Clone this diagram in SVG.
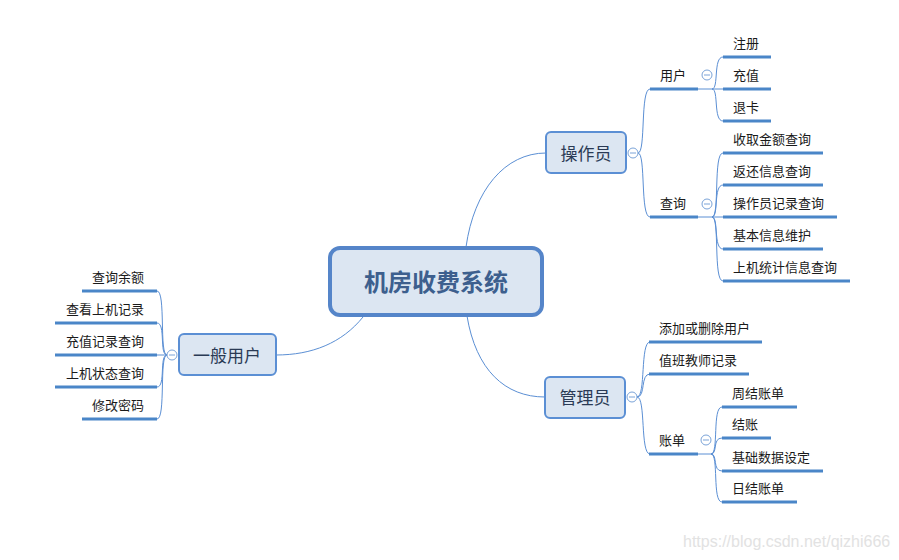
<svg xmlns="http://www.w3.org/2000/svg" width="899" height="560" viewBox="0 0 899 560">
<style>
.c{fill:none;stroke:#5b8fd4;stroke-width:1}
.u{fill:none;stroke:#4a86c8;stroke-width:3}
.t{font-family:"Noto Sans CJK SC","Liberation Sans",sans-serif;font-size:13px;fill:#1a1a1a}
.tr{font-family:"Noto Sans CJK SC","Liberation Sans",sans-serif;font-size:13px;fill:#1a1a1a;text-anchor:end}
.nb{fill:#dce6f2;stroke:#5b8fd4;stroke-width:2}
.nt{font-family:"Noto Sans CJK SC","Liberation Sans",sans-serif;font-size:17px;fill:#2a3a55;text-anchor:middle}
.cc{fill:#fff;stroke:#7aa3d8;stroke-width:1}
.cl{stroke:#7aa3d8;stroke-width:1}
</style>
<rect width="899" height="560" fill="#fff"/>
<g id="connectors">
<path class="c" d="M466,247 C474,190 505,153 546,153"/>
<path class="c" d="M467,316 C476,370 505,397 545,397"/>
<path class="c" d="M363,317 C342,343 312,355 276,355"/>
<path class="c" d="M638,153 C646,153 640,89 650,89"/>
<path class="c" d="M638,153 C646,153 640,217 650,217"/>
<path class="c" d="M698,89 L712,89"/>
<path class="c" d="M712,89 C719,89 713,57 723,57"/>
<path class="c" d="M712,89 L723,89"/>
<path class="c" d="M712,89 C719,89 713,121 723,121"/>
<path class="c" d="M698,217 L712,217"/>
<path class="c" d="M712,217 C720,217 713,153 723,153"/>
<path class="c" d="M712,217 C719,217 713,185 723,185"/>
<path class="c" d="M712,217 L723,217"/>
<path class="c" d="M712,217 C719,217 713,249 723,249"/>
<path class="c" d="M712,217 C720,217 713,281 723,281"/>
<path class="c" d="M637,397 C646,397 640,342 650,342"/>
<path class="c" d="M637,397 C646,397 640,374 650,374"/>
<path class="c" d="M637,397 C646,397 640,454 650,454"/>
<path class="c" d="M698,454 L711,454"/>
<path class="c" d="M711,454 C719,454 712,407 722,407"/>
<path class="c" d="M711,454 C718,454 712,438 722,438"/>
<path class="c" d="M711,454 C718,454 712,471 722,471"/>
<path class="c" d="M711,454 C719,454 712,502 722,502"/>
<path class="c" d="M167,355 C159,355 166,291 157,291"/>
<path class="c" d="M167,355 C159,355 166,323 157,323"/>
<path class="c" d="M167,355 L157,355"/>
<path class="c" d="M167,355 C159,355 166,387 157,387"/>
<path class="c" d="M167,355 C159,355 166,419 157,419"/>
<path class="u" d="M650,89 H698 M650,217 H698 M723,57 H771 M723,89 H771 M723,121 H771 M723,153 H823 M723,185 H823 M723,217 H837 M723,249 H823 M723,281 H850"/>
<path class="u" d="M649,342 H762 M649,374 H749 M649,454 H698 M722,407 H797 M722,438 H771 M722,471 H823 M722,502 H797"/>
<path class="u" d="M82,291 H157 M55,323 H157 M55,355 H157 M55,387 H157 M82,419 H157"/>
</g>
<g id="center">
<rect x="330" y="248" width="212" height="67" rx="10" fill="#dce6f2" stroke="#5585c9" stroke-width="4"/>
<text x="436" y="291" font-family="'Noto Sans CJK SC','Liberation Sans',sans-serif" font-size="24" font-weight="bold" fill="#3d5f8e" text-anchor="middle">机房收费系统</text>
</g>
<g id="operator">
<rect class="nb" x="546" y="132" width="80" height="41" rx="5"/>
<text class="nt" x="586" y="160">操作员</text>
<circle class="cc" cx="633" cy="153" r="5"/><path class="cl" d="M630,153 H636"/>
</g>
<g id="op-user">
<text class="t" x="660" y="80">用户</text>
<circle class="cc" cx="707" cy="75" r="5"/><path class="cl" d="M704,75 H710"/>
</g>
<g id="op-query">
<text class="t" x="660" y="208">查询</text>
<circle class="cc" cx="707" cy="204" r="5"/><path class="cl" d="M704,204 H710"/>
</g>
<g id="op-leaves">
<text class="t" x="733" y="48">注册</text>
<text class="t" x="733" y="80">充值</text>
<text class="t" x="733" y="112">退卡</text>
<text class="t" x="733" y="144">收取金额查询</text>
<text class="t" x="733" y="176">返还信息查询</text>
<text class="t" x="733" y="208">操作员记录查询</text>
<text class="t" x="733" y="240">基本信息维护</text>
<text class="t" x="733" y="272">上机统计信息查询</text>
</g>
<g id="admin">
<rect class="nb" x="545" y="377" width="80" height="41" rx="5"/>
<text class="nt" x="585" y="404">管理员</text>
<circle class="cc" cx="632" cy="397" r="5"/><path class="cl" d="M629,397 H635"/>
</g>
<g id="admin-bill">
<text class="t" x="659" y="445">账单</text>
<circle class="cc" cx="706" cy="440" r="5"/><path class="cl" d="M703,440 H709"/>
</g>
<g id="admin-leaves">
<text class="t" x="659" y="333">添加或删除用户</text>
<text class="t" x="659" y="365">值班教师记录</text>
<text class="t" x="732" y="398">周结账单</text>
<text class="t" x="732" y="429">结账</text>
<text class="t" x="732" y="462">基础数据设定</text>
<text class="t" x="732" y="493">日结账单</text>
</g>
<g id="general">
<rect class="nb" x="179" y="334" width="97" height="41" rx="5"/>
<text class="nt" x="227" y="362">一般用户</text>
<circle class="cc" cx="172" cy="355" r="5"/><path class="cl" d="M169,355 H175"/>
</g>
<g id="general-leaves">
<text class="tr" x="144" y="282">查询余额</text>
<text class="tr" x="144" y="314">查看上机记录</text>
<text class="tr" x="144" y="346">充值记录查询</text>
<text class="tr" x="144" y="378">上机状态查询</text>
<text class="tr" x="144" y="410">修改密码</text>
</g>
<text x="683" y="547" font-family="'Liberation Sans',sans-serif" font-size="16" fill="#e2e2e2">https://blog.csdn.net/qizhi666</text>
</svg>
